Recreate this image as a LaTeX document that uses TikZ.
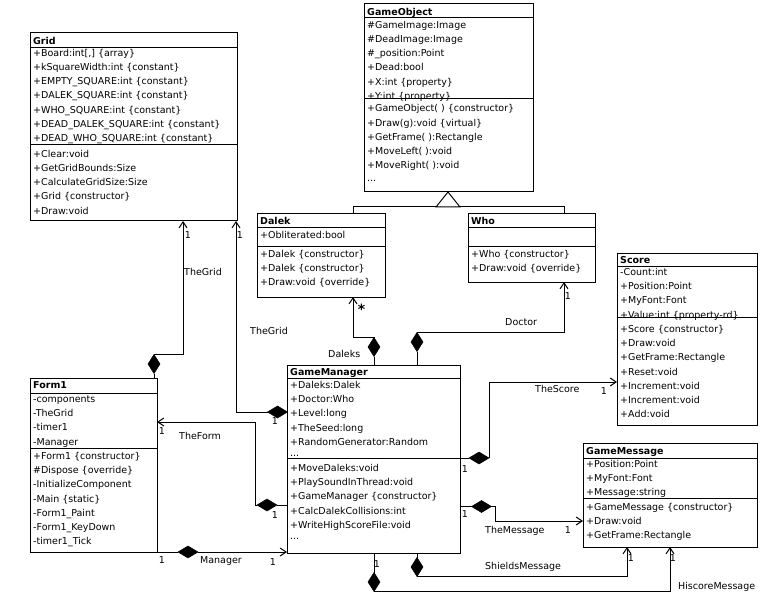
\documentclass[tikz,border=0pt]{standalone}
\usepackage{fontspec}
\setmainfont{DejaVu Sans}
\usetikzlibrary{arrows.meta,shapes.geometric,calc}
\tikzset{
  classbox/.style={draw, line width=1pt, inner sep=0pt, outer sep=0pt, anchor=north west, fill=white},
  sepline/.style={line width=1pt},
  rowtxt/.style={anchor=base west, inner sep=0pt, font=\fontsize{9.5}{12}\selectfont},
  titletxt/.style={anchor=base west, inner sep=0pt, font=\fontsize{9.5}{12}\selectfont\bfseries},
  lbl/.style={anchor=base west, inner sep=0pt, font=\fontsize{9.5}{12}\selectfont},
  mult/.style={anchor=base, inner sep=0pt, font=\fontsize{9.5}{12}\selectfont},
  conn/.style={line width=1pt},
  nav/.style={conn, -{Straight Barb[length=6pt,width=8pt,line width=1pt]}},
  dmdV/.style={diamond, fill=black, draw=black, line width=0.5pt, inner sep=0pt, outer sep=0pt, minimum width=12pt, minimum height=19pt},
  dmdH/.style={diamond, fill=black, draw=black, line width=0.5pt, inner sep=0pt, outer sep=0pt, minimum width=20pt, minimum height=12pt},
}
\newcommand\umlbox[7]{%
  \node[classbox, minimum width={(#4)-(#2)}, minimum height={(#5)-(#3)}] (#1) at (#2,#3) {};
  \draw[sepline] (#2,#6) -- (#4,#6);
  \draw[sepline] (#2,#7) -- (#4,#7);
}
\newcommand\rowlist[4]{%
  \foreach \t [count=\i from 1] in {#4} {\node[rowtxt] (#1\i) at (#2, {#3+14.1*(\i-1)}) {\t};}
}
\begin{document}
\begin{tikzpicture}[x=1pt,y=-1pt]
\useasboundingbox (0,0) rectangle (780,599);
\fill[white] (0,0) rectangle (780,599);

% ---------- Grid
\umlbox{grid}{30}{33}{237}{221}{48}{145}
\node[titletxt] (grid-t) at (33,45) {Grid};
\rowlist{grid-a}{33}{56.7}{{+Board:int[,] \{array\}},+kSquareWidth:int \{constant\},+EMPTY\_SQUARE:int \{constant\},+DALEK\_SQUARE:int \{constant\},+WHO\_SQUARE:int \{constant\},+DEAD\_DALEK\_SQUARE:int \{constant\},+DEAD\_WHO\_SQUARE:int \{constant\}}
\rowlist{grid-m}{33}{157.7}{+Clear:void,+GetGridBounds:Size,+CalculateGridSize:Size,+Grid \{constructor\},+Draw:void}

% ---------- GameObject
\umlbox{gobj}{364}{4}{533}{192}{18}{99}
\node[titletxt] (gobj-t) at (367,15.4) {GameObject};
\rowlist{gobj-a}{367}{28.7}{\#GameImage:Image,\#DeadImage:Image,\#\_position:Point,+Dead:bool,+X:int \{property\},+Y:int \{property\}}
\rowlist{gobj-m}{367}{112}{+GameObject( ) \{constructor\},+Draw(g):void \{virtual\},+GetFrame( ):Rectangle,+MoveLeft( ):void,+MoveRight( ):void,\raisebox{1.5pt}{...}}

% ---------- Dalek
\umlbox{dalek}{257}{214}{385}{297}{228}{247}
\node[titletxt] (dalek-t) at (260,224.7) {Dalek};
\rowlist{dalek-a}{260}{238.7}{+Obliterated:bool}
\rowlist{dalek-m}{260}{257.7}{+Dalek \{constructor\},+Dalek \{constructor\},+Draw:void \{override\}}

% ---------- Who
\umlbox{who}{468}{214}{595}{282}{228}{247}
\node[titletxt] (who-t) at (471,224.7) {Who};
\rowlist{who-m}{471}{257.7}{+Who \{constructor\},+Draw:void \{override\}}

% ---------- Score
\umlbox{score}{617}{254}{757}{425}{266}{317}
\node[titletxt] (score-t) at (620,263) {Score};
\rowlist{score-a}{620}{275.7}{-Count:int,+Position:Point,+MyFont:Font,+Value:int \{property-rd\}}
\rowlist{score-m}{620}{332.7}{+Score \{constructor\},+Draw:void,+GetFrame:Rectangle,+Reset:void,+Increment:void,+Increment:void,+Add:void}

% ---------- Form1
\umlbox{form1}{30}{378}{157}{552}{393}{448}
\node[titletxt] (form1-t) at (33,388.7) {Form1};
\rowlist{form1-a}{33}{402.7}{-components,-TheGrid,-timer1,-Manager}
\rowlist{form1-m}{33}{459.7}{+Form1 \{constructor\},\#Dispose \{override\},-InitializeComponent,-Main \{static\},-Form1\_Paint,-Form1\_KeyDown,-timer1\_Tick}

% ---------- GameManager
\umlbox{gm}{287}{365}{460}{553}{378}{458}
\node[titletxt] (gm-t) at (290,375.4) {GameManager};
\rowlist{gm-a}{290}{388.7}{+Daleks:Dalek,+Doctor:Who,+Level:long,+TheSeed:long,+RandomGenerator:Random,\raisebox{3pt}{...}}
\rowlist{gm-m}{290}{471.7}{+MoveDaleks:void,+PlaySoundInThread:void,+GameManager \{constructor\},+CalcDalekCollisions:int,+WriteHighScoreFile:void,\raisebox{3pt}{...}}

% ---------- GameMessage
\umlbox{gmsg}{583}{443}{757}{547}{458}{498}
\node[titletxt] (gmsg-t) at (586,454.7) {GameMessage};
\rowlist{gmsg-a}{586}{467.7}{+Position:Point,+MyFont:Font,+Message:string}
\rowlist{gmsg-m}{586}{510.7}{+GameMessage \{constructor\},+Draw:void,+GetFrame:Rectangle}

% ---------- inheritance
\coordinate (inhL) at (353,207);
\coordinate (inhR) at (564,207);
\coordinate (triX) at (448,0);
\draw[conn] (inhL |- dalek.north) -- (inhL) -- (inhR) -- (inhR |- who.north);
\draw[conn, fill=white] (gobj.south -| triX) -- ++(-12,15) -- ++(24,0) -- cycle;

% ---------- TheGrid (Form1)
\node[dmdV] (dFG) at (154,364) {};
\coordinate (cFG) at (183,354);
\draw[conn] (dFG.south) -- (dFG.south |- form1.north);
\draw[nav] (dFG.north) |- (cFG) -- (cFG |- grid.south);

% ---------- TheGrid (GameManager)
\node[dmdH] (dGG) at (277.5,412) {};
\coordinate (cGG) at (236,412);
\draw[nav] (dGG.west) -- (cGG) -- (cGG |- grid.south);

% ---------- TheForm
\node[dmdH] (dFM) at (267,505) {};
\coordinate (cFM) at (255,422);
\draw[conn] (dFM.east) -- (dFM.east -| gm.west);
\draw[nav] (dFM.west) -| (cFM) -- (cFM -| form1.east);

% ---------- Manager
\node[dmdH] (dMG) at (188,552) {};
\draw[conn] (form1.south east) -- (dMG.west);
\draw[nav] (dMG.east) -- (dMG.east -| gm.west);

% ---------- Daleks
\node[dmdV] (dDK) at (374,347) {};
\coordinate (cDK) at (353,337);
\draw[conn] (dDK.south) -- (dDK.south |- gm.north);
\draw[nav] (dDK.north) |- (cDK) -- (cDK |- dalek.south);

% ---------- Doctor
\node[dmdV] (dDR) at (417,342) {};
\coordinate (cDR) at (564,332);
\draw[conn] (dDR.south) -- (dDR.south |- gm.north);
\draw[nav] (dDR.north) |- (cDR) -- (cDR |- who.south);

% ---------- TheScore
\node[dmdH] (dSC) at (479,458) {};
\coordinate (cSC) at (489,382);
\draw[conn] (gm.east |- dSC) -- (dSC.west);
\draw[nav] (dSC.east) -- (cSC) -- (cSC -| score.west);

% ---------- TheMessage
\node[dmdH] (dMS) at (481.5,506.5) {};
\coordinate (cMS) at (495,521);
\draw[conn] (gm.east |- dMS) -- (dMS.west);
\draw[nav] (dMS.east) -| (cMS) -- (cMS -| gmsg.west);

% ---------- ShieldsMessage
\node[dmdV] (dSH) at (417,567) {};
\coordinate (cSH) at (627,576);
\draw[conn] (dSH.north |- gm.south) -- (dSH.north);
\draw[nav] (dSH.south) |- (cSH) -- (cSH |- gmsg.south);

% ---------- HiscoreMessage
\node[dmdV] (dHS) at (374,582) {};
\coordinate (cHS) at (670,591);
\draw[conn] (dHS.north |- gm.south) -- (dHS.north);
\draw[nav] (dHS.south) |- (cHS) -- (cHS |- gmsg.south);

% ---------- role labels
\node[lbl] (lTG1) at (184,276) {TheGrid};
\node[lbl] (lTG2) at (250,334) {TheGrid};
\node[lbl] (lDK) at (328,357) {Daleks};
\node[lbl] (lDR) at (505,325) {Doctor};
\node[lbl] (lSC) at (535,392) {TheScore};
\node[lbl] (lFM) at (179,439) {TheForm};
\node[lbl] (lMS) at (485,533) {TheMessage};
\node[lbl] (lSH) at (485,569) {ShieldsMessage};
\node[lbl] (lHS) at (678,589) {HiscoreMessage};
\node[lbl] (lMG) at (200,563) {Manager};

% ---------- multiplicities
\node[anchor=north, inner sep=0pt, font=\fontsize{14}{14}\selectfont\bfseries] (mDK) at (361.5,304) {*};
\node[mult] (m1) at (188,239) {1};
\node[mult] (m2) at (240,239) {1};
\node[mult] (m3) at (568,299) {1};
\node[mult] (m4) at (631,561) {1};
\node[mult] (m5) at (673,561) {1};
\node[mult] (m6) at (604,394) {1};
\node[mult] (m7) at (568,533) {1};
\node[mult] (m8) at (162,434) {1};
\node[mult] (m9) at (273,565) {1};
\node[mult] (m10) at (162,563) {1};
\node[mult] (m11) at (275,424) {1};
\node[mult] (m12) at (275,518) {1};
\node[mult] (m13) at (465,472) {1};
\node[mult] (m14) at (465,517) {1};
\node[mult] (m15) at (377,567) {1};
\end{tikzpicture}
\end{document}
